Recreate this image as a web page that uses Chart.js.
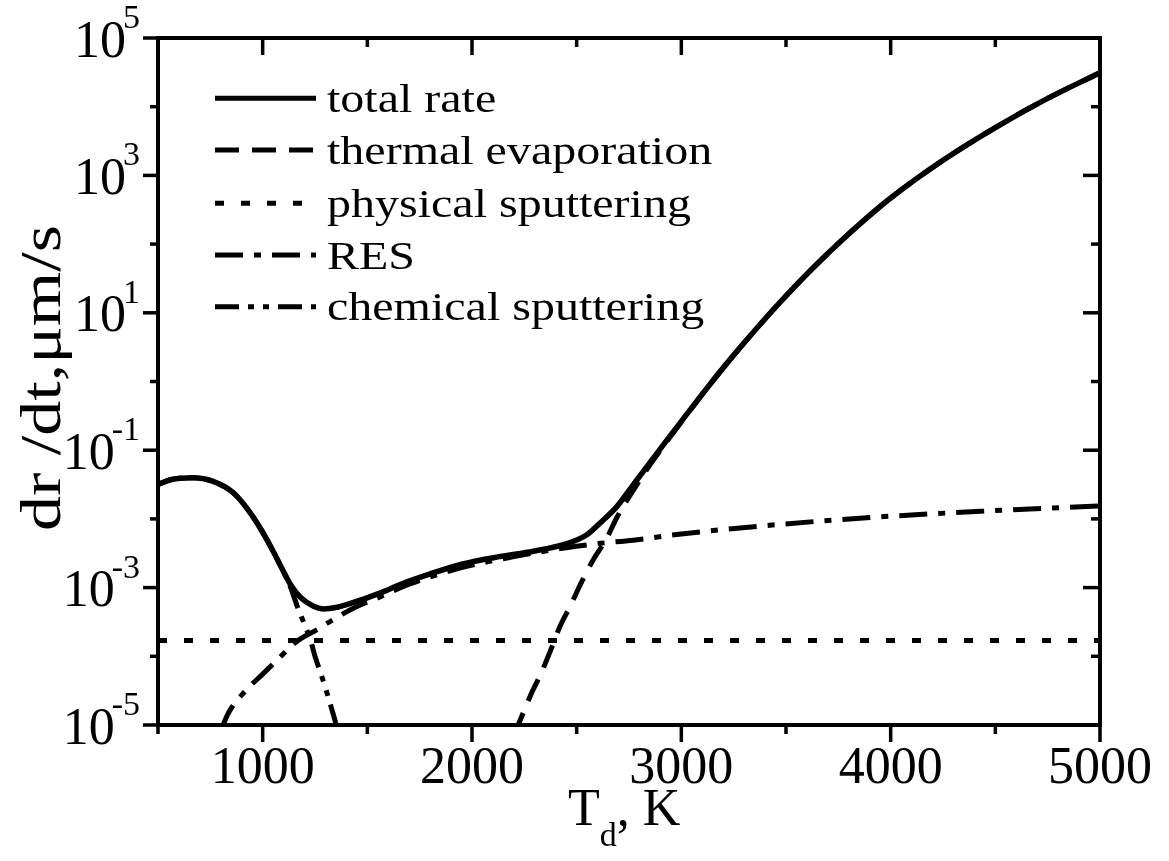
<!DOCTYPE html>
<html><head><meta charset="utf-8">
<script src="https://cdn.jsdelivr.net/npm/chart.js@4.4.1/dist/chart.umd.min.js"></script>
<style>html,body{margin:0;padding:0;background:#fff;}canvas{display:block;}</style>
</head><body>
<canvas id="c" width="1169" height="861"></canvas>
<script>
// ---- data ----
const seriesNames = ["total rate", "thermal evaporation", "physical sputtering", "RES", "chemical sputtering"];

const totalT = [500,560,670,760,860,940,1020,1070,1132,1180,1243,1291,1350,1420,1560,1660,1800,1950,2130,2293,2453,2549,2612,2692,2771,2850,2932,3000,3125,3250,3375,3500,3625,3750,3875,4000,4250,4500,4750,5000];
const totalV = [0.0316,0.0372,0.0398,0.0355,0.0240,0.0123,0.00501,0.00257,0.00112,0.000724,0.000537,0.000490,0.000513,0.000589,0.000832,0.00112,0.00158,0.00219,0.00282,0.00339,0.00437,0.00589,0.00871,0.0151,0.0316,0.066,0.141,0.263,0.820,2.42,6.71,17.6,43.7,102,225,469,1660,4970,13200,31300];

const thermT = [2200,2237,2278,2334,2373,2421,2469,2525,2580,2644,2692,2771,2850,2932,3000,3125,3250,3375,3500,3625,3750,3875,4000,4250,4500,4750,5000];
const thermV = [7.1e-6,1.32e-5,2.63e-5,6.03e-5,1.17e-4,2.75e-4,5.37e-4,1.23e-3,2.57e-3,5.25e-3,1.05e-2,0.0263,0.061,0.136,0.257,0.813,2.41,6.70,17.6,43.7,102,225,469,1660,4970,13200,31300];

const physT = [500,5000];
const physV = [1.7e-4,1.7e-4];

const resT = [800,837,925,1000,1070,1165,1260,1340,1440,1550,1700,1950,2200,2450,2600,2770,3000,3470,3950,4430,5000];
const resV = [8.3e-6,1.51e-5,3.31e-5,5.5e-5,8.9e-5,1.66e-4,2.45e-4,3.47e-4,5.13e-4,7.08e-4,1.12e-3,1.95e-3,2.82e-3,3.80e-3,4.37e-3,4.90e-3,6.03e-3,8.32e-3,1.07e-2,1.29e-2,1.55e-2];

const chemT = [500,560,670,760,860,940,1020,1070,1130,1165,1203,1230,1250,1280,1307,1331,1347,1365];
const chemV = [0.0316,0.0372,0.0398,0.0355,0.0240,0.0123,0.00501,0.00257,0.00107,0.000537,0.000275,0.000166,0.000100,5.37e-5,2.95e-5,1.66e-5,1.12e-5,6.3e-6];

const xMajorTicks = [1000,2000,3000,4000,5000];
const xMinorTicks = [500,1500,2500,3500,4500];
const yMajorExp = [5,3,1,-1,-3,-5];
const yMinorExp = [4,2,0,-2,-4];
const xTitle = ["T","d",", K"];
const yTitle = "dr /dt,\u03BCm/s";

// ---- pick a Times-metric serif font that is really installed ----
function pickFont(){
  const c=document.createElement('canvas').getContext('2d');
  const probe='thermal evaporation';
  const cands=['Liberation Serif','Times New Roman','Tinos','Times','Nimbus Roman','FreeSerif'];
  for(const f of cands){
    c.font='100px "'+f+'", monospace';
    const w=c.measureText(probe).width;
    if(Math.abs(w-802.6)<15) return '"'+f+'", serif';
  }
  return '"Liberation Serif", serif';
}
const FONT = pickFont();

// ---- styles ----
const styles = [
  {w:5.5, dash:[]},
  {w:5, dash:[24,13]},
  {w:5, dash:[9,17]},
  {w:5, dash:[28,11,7,11]},
  {w:5, dash:[24,9,6,9,6,9]}
];
const pts = (T,V)=>T.map((t,i)=>({x:t,y:V[i]}));
const allData = [pts(totalT,totalV),pts(thermT,thermV),pts(physT,physV),pts(resT,resV),pts(chemT,chemV)];

const datasets = allData.map((d,i)=>({
  label: seriesNames[i], data: d, borderColor:'#000', backgroundColor:'#000',
  borderWidth: styles[i].w, borderDash: styles[i].dash, borderCapStyle:'butt',
  pointRadius:0, fill:false, cubicInterpolationMode:'monotone', clip:0
}));

function drawText(ctx, txt, x, y, size, align, sx, sy){
  ctx.save();
  ctx.translate(x,y);
  ctx.scale(sx||1, sy||1);
  ctx.font = size+'px '+FONT;
  ctx.textAlign = align||'left';
  ctx.textBaseline = 'alphabetic';
  ctx.fillStyle = '#000';
  ctx.fillText(txt,0,0);
  ctx.restore();
}

const axesPlugin = {
  id:'axesPlugin',
  afterDatasetsDraw(chart){
    const ctx = chart.ctx, a = chart.chartArea;
    const xs = chart.scales.x, ys = chart.scales.y;
    ctx.save();
    ctx.strokeStyle='#000'; ctx.lineWidth=4; ctx.lineCap='butt';
    ctx.strokeRect(a.left, a.top, a.right-a.left, a.bottom-a.top);
    ctx.lineWidth=3.5;
    const line=(x1,y1,x2,y2)=>{ctx.beginPath();ctx.moveTo(x1,y1);ctx.lineTo(x2,y2);ctx.stroke();};
    xMajorTicks.forEach(v=>{const p=xs.getPixelForValue(v);
      line(p,a.bottom,p,a.bottom+17); line(p,a.top,p,a.top+17);});
    xMinorTicks.forEach(v=>{const p=xs.getPixelForValue(v);
      line(p,a.bottom,p,a.bottom+9); line(p,a.top,p,a.top+9);});
    yMajorExp.forEach(e=>{const p=ys.getPixelForValue(Math.pow(10,e));
      line(a.left-15,p,a.left,p); line(a.right-17,p,a.right,p);});
    yMinorExp.forEach(e=>{const p=ys.getPixelForValue(Math.pow(10,e));
      line(a.left-8,p,a.left,p); line(a.right-9,p,a.right,p);});
    ctx.restore();
    // x labels
    xMajorTicks.forEach(v=>{const p=xs.getPixelForValue(v);
      drawText(ctx, String(v), p, a.bottom+58, 52, 'center');});
    // y labels
    yMajorExp.forEach(e=>{
      const p=ys.getPixelForValue(Math.pow(10,e));
      const es = String(e);
      ctx.font='34px '+FONT; const we=ctx.measureText(es).width;
      const R=140;
      drawText(ctx, es, R-we, p-10, 34, 'left');
      drawText(ctx, '10', R-we+3, p+18.5, 52, 'right');
    });
    // x title
    ctx.font='52px '+FONT;
    const x0=568;
    const wT=ctx.measureText(xTitle[0]).width;
    drawText(ctx, xTitle[0], x0, 825, 52, 'left');
    ctx.font='34px '+FONT; const wd=ctx.measureText(xTitle[1]).width;
    drawText(ctx, xTitle[1], x0+wT, 846, 34, 'left');
    drawText(ctx, xTitle[2], x0+wT+wd, 825, 52, 'left');
    // y title
    ctx.save();
    ctx.translate(60, 378);
    ctx.rotate(-Math.PI/2);
    drawText(ctx, yTitle, 0, 0, 56, 'center', 1.25, 1);
    ctx.restore();
    // legend
    const rows=[98.3,150,203.3,255,306.7];
    rows.forEach((y,i)=>{
      ctx.save();
      ctx.strokeStyle='#000'; ctx.lineWidth=5; ctx.lineCap='butt';
      ctx.setLineDash(styles[i].dash);
      ctx.beginPath(); ctx.moveTo(215,y); ctx.lineTo(316,y); ctx.stroke();
      ctx.restore();
      drawText(ctx, seriesNames[i], 327, y+13.5, 40, 'left', 1.2, 1);
    });
  }
};

new Chart(document.getElementById('c'), {
  type:'line',
  data:{datasets},
  options:{
    responsive:false, animation:false,
    layout:{padding:{left:158,right:69,top:38,bottom:136}},
    plugins:{legend:{display:false},tooltip:{enabled:false}},
    scales:{
      x:{type:'linear',min:500,max:5000,display:false},
      y:{type:'logarithmic',min:1e-5,max:1e5,display:false}
    }
  },
  plugins:[axesPlugin]
});
</script>
</body></html>
